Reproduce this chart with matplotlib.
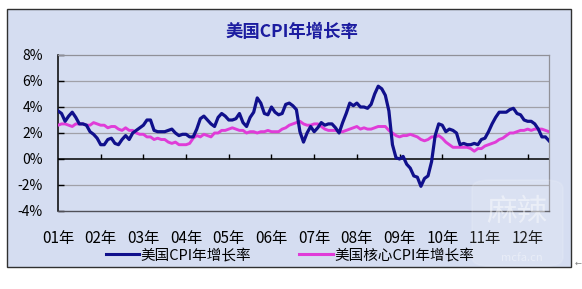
import matplotlib
matplotlib.use("Agg")
import matplotlib.pyplot as plt
from matplotlib.patches import Rectangle, FancyBboxPatch
from matplotlib.lines import Line2D
import numpy as np

plt.rcParams['font.family'] = ['Noto Sans CJK SC', 'DejaVu Sans']

title = "美国CPI年增长率"
series_names = ["美国CPI年增长率", "美国核心CPI年增长率"]
year_labels = ["01年", "02年", "03年", "04年", "05年", "06年",
               "07年", "08年", "09年", "10年", "11年", "12年"]
y_ticks = [-4, -2, 0, 2, 4, 6, 8]
y_tick_labels = ["-4%", "-2%", "0%", "2%", "4%", "6%", "8%"]

# Monthly values, Jan 2001 - Jul 2012 (percent)
cpi = [3.7, 3.5, 2.9, 3.3, 3.6, 3.2, 2.7, 2.7, 2.6, 2.1, 1.9, 1.6,
       1.1, 1.1, 1.5, 1.6, 1.2, 1.1, 1.5, 1.8, 1.5, 2.0, 2.2, 2.4,
       2.6, 3.0, 3.0, 2.2, 2.1, 2.1, 2.1, 2.2, 2.3, 2.0, 1.8, 1.9,
       1.9, 1.7, 1.7, 2.3, 3.1, 3.3, 3.0, 2.7, 2.5, 3.2, 3.5, 3.3,
       3.0, 3.0, 3.1, 3.5, 2.8, 2.5, 3.2, 3.6, 4.7, 4.3, 3.5, 3.4,
       4.0, 3.6, 3.4, 3.5, 4.2, 4.3, 4.1, 3.8, 2.1, 1.3, 2.0, 2.5,
       2.1, 2.4, 2.8, 2.6, 2.7, 2.7, 2.4, 2.0, 2.8, 3.5, 4.3, 4.1,
       4.3, 4.0, 4.0, 3.9, 4.2, 5.0, 5.6, 5.4, 4.9, 3.7, 1.1, 0.1,
       0.0, 0.2, -0.4, -0.7, -1.3, -1.4, -2.1, -1.5, -1.3, -0.2, 1.8, 2.7,
       2.6, 2.1, 2.3, 2.2, 2.0, 1.1, 1.2, 1.1, 1.1, 1.2, 1.1, 1.5,
       1.6, 2.1, 2.7, 3.2, 3.6, 3.6, 3.6, 3.8, 3.9, 3.5, 3.4, 3.0,
       2.9, 2.9, 2.7, 2.3, 1.7, 1.7, 1.4]
core = [2.6, 2.7, 2.7, 2.6, 2.5, 2.7, 2.7, 2.7, 2.6, 2.6, 2.8, 2.7,
        2.6, 2.6, 2.4, 2.5, 2.5, 2.3, 2.2, 2.4, 2.2, 2.2, 2.0, 1.9,
        1.9, 1.7, 1.7, 1.5, 1.6, 1.5, 1.5, 1.3, 1.2, 1.3, 1.1, 1.1,
        1.1, 1.2, 1.6, 1.8, 1.7, 1.9, 1.8, 1.7, 2.0, 2.0, 2.2, 2.2,
        2.3, 2.4, 2.3, 2.2, 2.2, 2.0, 2.1, 2.1, 2.0, 2.1, 2.1, 2.2,
        2.1, 2.1, 2.1, 2.3, 2.4, 2.6, 2.7, 2.8, 2.9, 2.7, 2.6, 2.6,
        2.7, 2.7, 2.5, 2.3, 2.2, 2.2, 2.2, 2.1, 2.1, 2.2, 2.3, 2.4,
        2.5, 2.3, 2.4, 2.3, 2.3, 2.4, 2.5, 2.5, 2.5, 2.2, 2.0, 1.8,
        1.7, 1.8, 1.8, 1.9, 1.8, 1.7, 1.5, 1.4, 1.5, 1.7, 1.7, 1.8,
        1.6, 1.3, 1.1, 0.9, 0.9, 0.9, 0.9, 0.9, 0.8, 0.6, 0.8, 0.8,
        1.0, 1.1, 1.2, 1.3, 1.5, 1.6, 1.8, 2.0, 2.0, 2.1, 2.2, 2.2,
        2.3, 2.2, 2.3, 2.3, 2.3, 2.2, 2.1]

W, H = 582, 289
fig = plt.figure(figsize=(W / 100, H / 100), dpi=100, facecolor='white')

# chart frame / background
bg = Rectangle((7 / W, 1 - 267 / H), (571 - 7) / W, (267 - 9) / H,
               transform=fig.transFigure, facecolor='#d5ddf1',
               edgecolor='#303030', linewidth=1.0, zorder=-10)
fig.patches.append(bg)

ax = fig.add_axes([58 / W, 1 - 211 / H, (549 - 58) / W, (211 - 55) / H])
ax.set_zorder(2)
ax.set_facecolor('none')

x = np.arange(len(cpi))
ax.plot(x, cpi, color='#10108c', lw=2.3, zorder=4, solid_joinstyle='round')
ax.plot(x, core, color='#e03cd8', lw=2.1, zorder=3, solid_joinstyle='round')

ax.set_xlim(0, len(cpi) - 1)
ax.set_ylim(-4, 8)
ax.set_yticks(y_ticks)
ax.set_yticklabels(y_tick_labels, fontsize=10)
ax.tick_params(axis='y', direction='in', length=4, width=1, pad=11,
               colors='black')

year_pos = np.arange(len(year_labels)) * 12
ax.set_xticks(year_pos)
ax.set_xticklabels(year_labels, fontsize=11)
ax.tick_params(axis='x', length=0, pad=14)

# horizontal gridlines
for yv in y_ticks:
    if yv not in (-4, 0, 8):
        ax.axhline(yv, color='#a0a0a8', lw=0.9, zorder=1)
# category axis at 0 with upward tick marks
ax.axhline(0, color='black', lw=1.1, zorder=2)
ax.vlines(year_pos[1:], 0, 0.35, color='black', lw=1.0, zorder=2)

for s in ['top', 'right']:
    ax.spines[s].set_color('#909098')
    ax.spines[s].set_linewidth(0.9)
ax.spines['bottom'].set_color('#505058')
ax.spines['bottom'].set_linewidth(1.0)
ax.spines['left'].set_color('black')
ax.spines['left'].set_linewidth(1.1)

fig.text(292 / W, 1 - 32 / H, title, ha='center', va='center',
         fontsize=12.5, fontweight='bold', color='#1c1ca0')

handles = [Line2D([], [], color='#10108c', lw=2.2),
           Line2D([], [], color='#e03cd8', lw=2.2)]
fig.legend(handles, series_names, loc='center',
           bbox_to_anchor=(290 / W, 1 - 255 / H), ncol=2, frameon=False,
           fontsize=10.5, handlelength=2.3, handletextpad=0.1,
           columnspacing=3.3, borderpad=0, borderaxespad=0)

# watermark
wm = FancyBboxPatch((472 / W, 1 - 266 / H), (563 - 472) / W, (266 - 180) / H,
                    boxstyle="round,pad=0,rounding_size=0.03",
                    transform=fig.transFigure, facecolor='white', alpha=0.12,
                    edgecolor='white', linewidth=1.2, zorder=5)
fig.patches.append(wm)
fig.text(517 / W, 1 - 212 / H, "麻辣", ha='center', va='center', fontsize=22,
         color='white', alpha=0.45, zorder=6)
fig.text(522 / W, 1 - 258 / H, "mcfa.cn", ha='center', va='center',
         fontsize=8, color='white', alpha=0.4, zorder=6)

fig.text(578 / W, 1 - 263 / H, "←", ha='center', va='center', fontsize=6,
         color='#808080', family='DejaVu Sans')

fig.savefig('out.png', dpi=100, facecolor='white')
